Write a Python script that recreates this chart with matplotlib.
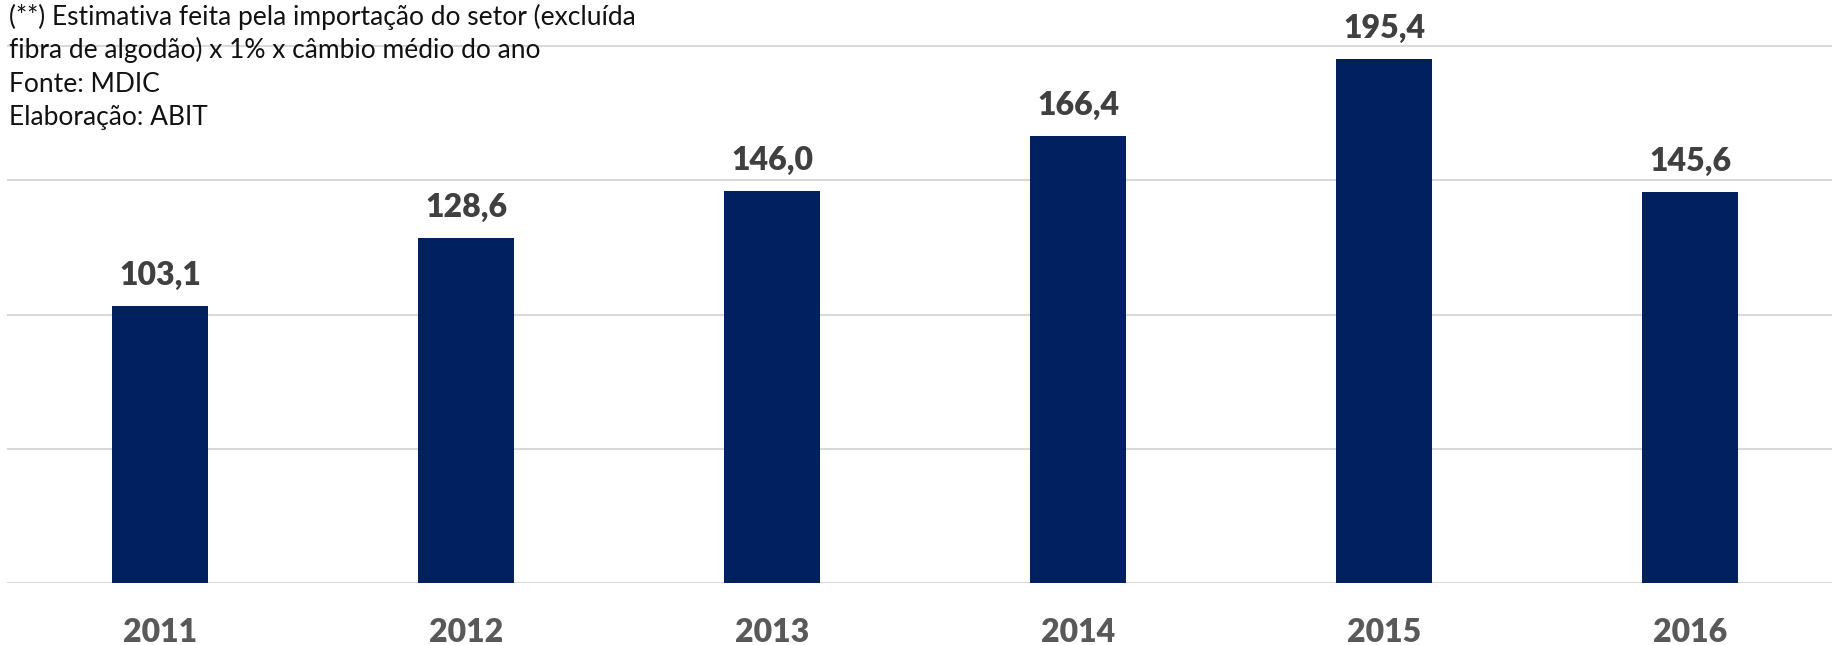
import matplotlib
matplotlib.use("Agg")
import matplotlib.pyplot as plt

plt.rcParams['font.family'] = ['Lato', 'DejaVu Sans']

years = ['2011', '2012', '2013', '2014', '2015', '2016']
valores = [103.1, 128.6, 146.0, 166.4, 195.4, 145.6]
nota = ['(**) Estimativa feita pela importação do setor (excluída',
        'fibra de algodão) x 1% x câmbio médio do ano',
        'Fonte: MDIC',
        'Elaboração: ABIT']

W, H = 1833, 645
fig = plt.figure(figsize=(W / 100, H / 100), dpi=100)
ax = fig.add_axes([7 / W, 62 / H, 1836 / W, 583 / H])

x = range(len(years))
ax.bar(x, valores, width=0.314, color='#002060', zorder=3)
ax.set_xlim(-0.5, len(years) - 0.5)
ax.set_ylim(0, 217.2)

# grid every 50
for g in range(0, 201, 50):
    ax.axhline(g, color='#d9d9d9', lw=1.5, zorder=1)

for i, v in enumerate(valores):
    ax.annotate(f"{v:.1f}".replace('.', ','), xy=(i, v), xytext=(0, 21),
                textcoords='offset pixels', ha='center', va='baseline',
                fontsize=23, fontweight='heavy', color='#404040')
    ax.annotate(years[i], xy=(i, 0), xytext=(0, -59.5),
                textcoords='offset pixels', ha='center', va='baseline',
                fontsize=23, fontweight='heavy', color='#595959',
                annotation_clip=False)

ax.set_xticks([])
ax.set_yticks([])
for s in ax.spines.values():
    s.set_visible(False)

for k, linha in enumerate(nota):
    fig.text(9 / W, 1 - (25 + 33.3 * k) / H, linha, ha='left', va='baseline',
             fontsize=19, color='#111111')

fig.savefig('out.png', dpi=100)
